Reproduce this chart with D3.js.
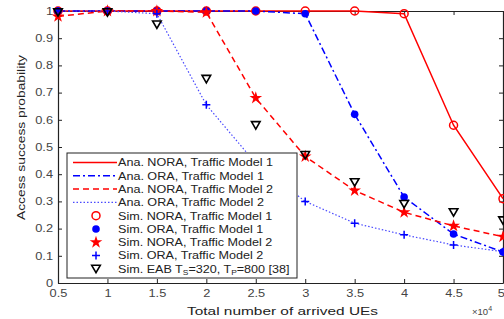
<!DOCTYPE html>
<html>
<head>
<meta charset="utf-8">
<script src="https://cdn.jsdelivr.net/npm/d3@7"></script>
<style>
  body { margin: 0; background: #fff; }
  svg { display: block; }
  .tick text { font-family: "Liberation Sans", Arial, sans-serif; font-size: 10px; fill: #444; }
</style>
</head>
<body>
<svg id="chart" width="504" height="319"></svg>
<script>
// x values are in units of 10^4 arrived UEs
const xVals = [0.5, 1, 1.5, 2, 2.5, 3, 3.5, 4, 4.5, 5];
const xTicks = [0.5, 1, 1.5, 2, 2.5, 3, 3.5, 4, 4.5, 5];
const yTicks = [0, 0.1, 0.2, 0.3, 0.4, 0.5, 0.6, 0.7, 0.8, 0.9, 1];

const anaNoraTM1 = [1, 1, 1, 1, 1, 1, 1, 0.99, 0.58, 0.31];
const anaOraTM1 = [1, 1, 1, 1, 1, 0.99, 0.62, 0.316, 0.18, 0.114];
const anaNoraTM2 = [0.98, 1, 1, 0.995, 0.68, 0.465, 0.34, 0.26, 0.21, 0.17];
const anaOraTM2 = [1, 1, 0.99, 0.655, 0.44, 0.30, 0.22, 0.177, 0.14, 0.115];

const simNoraTM1 = [1, 1, 1, 1, 1, 1, 1, 0.99, 0.58, 0.31];
const simOraTM1 = [1, 1, 1, 1, 1, 0.99, 0.62, 0.316, 0.18, 0.114];
const simNoraTM2 = [0.98, 1, 1, 0.995, 0.68, 0.465, 0.34, 0.26, 0.21, 0.17];
const simOraTM2 = [1, 1, 0.99, 0.655, 0.44, 0.30, 0.22, 0.177, 0.14, 0.115];
const simEAB = [0.995, 0.995, 0.95, 0.75, 0.58, 0.47, 0.37, 0.29, 0.26, 0.23];

const legendLabels = [
  "Ana. NORA, Traffic Model 1",
  "Ana. ORA, Traffic Model 1",
  "Ana. NORA, Traffic Model 2",
  "Ana. ORA, Traffic Model 2",
  "Sim. NORA, Traffic Model 1",
  "Sim. ORA, Traffic Model 1",
  "Sim. NORA, Traffic Model 2",
  "Sim. ORA, Traffic Model 2",
  "Sim. EAB"
];

const margin = { top: 11, right: 1, bottom: 36, left: 58 };
const width = 504 - margin.left - margin.right;
const height = 319 - margin.top - margin.bottom;
const font = '"Liberation Sans", Arial, sans-serif';
const stretch = 1.28; // the source picture is wider than tall, text looks stretched

const svg = d3.select("#chart");
const g = svg.append("g").attr("transform", `translate(${margin.left},${margin.top})`);

const x = d3.scaleLinear().domain([0.5, 5]).range([0, width]);
const y = d3.scaleLinear().domain([0, 1]).range([height, 0]);

// axes on all four sides, ticks pointing inward
const xAxis = g.append("g")
  .attr("transform", `translate(0,${height})`)
  .call(d3.axisBottom(x).tickValues(xTicks).tickSizeInner(-4).tickSizeOuter(0).tickPadding(7).tickFormat(d3.format("~g")));
g.append("g")
  .call(d3.axisTop(x).tickValues(xTicks).tickSizeInner(-4).tickSizeOuter(0).tickFormat(""));
const yAxis = g.append("g")
  .call(d3.axisLeft(y).tickValues(yTicks).tickSizeInner(-4).tickSizeOuter(0).tickPadding(5).tickFormat(d3.format("~g")));
g.append("g")
  .attr("transform", `translate(${width},0)`)
  .call(d3.axisRight(y).tickValues(yTicks).tickSizeInner(-4).tickSizeOuter(0).tickFormat(""));
g.selectAll(".domain").attr("stroke", "#222").attr("stroke-width", 1.2);
g.selectAll(".tick line").attr("stroke", "#222");

// widen tick labels like in the source
xAxis.selectAll(".tick text").attr("transform", `scale(${stretch},1)`);
yAxis.selectAll(".tick text").attr("transform", `scale(${stretch},1)`).attr("x", -5 / stretch);
xAxis.selectAll(".tick:last-of-type text").attr("text-anchor", "end").attr("x", 1);

const line = d3.line().x((d, i) => x(xVals[i])).y(d => y(d));

const lineSeries = [
  { data: anaNoraTM1, color: "#ff0000", dash: null, w: 1.5 },
  { data: anaOraTM1, color: "#0000ff", dash: "7,3,2,3", w: 1.5 },
  { data: anaNoraTM2, color: "#ff0000", dash: "6,4", w: 1.5 },
  { data: anaOraTM2, color: "#4a4aff", dash: "1.5,2", w: 1.2 }
];

lineSeries.forEach(s => {
  g.append("path")
    .datum(s.data)
    .attr("fill", "none")
    .attr("stroke", s.color)
    .attr("stroke-width", s.w)
    .attr("stroke-dasharray", s.dash)
    .attr("d", line);
});

// marker drawing helpers
function drawMarker(sel, type) {
  if (type === "circleOpen") {
    sel.append("circle").attr("r", 4).attr("fill", "none").attr("stroke", "#ff0000").attr("stroke-width", 1.5);
  } else if (type === "circleFill") {
    sel.append("circle").attr("r", 3.8).attr("fill", "#0000ff");
  } else if (type === "star") {
    sel.append("path").attr("d", d3.symbol(d3.symbolStar, 50)).attr("fill", "#ff0000");
  } else if (type === "plus") {
    sel.append("path").attr("d", "M-4,0H4M0,-4V4").attr("stroke", "#0000ff").attr("stroke-width", 1.5);
  } else if (type === "tri") {
    sel.append("path").attr("d", "M-4.3,-3.6L4.3,-3.6L0,3.8Z").attr("fill", "none").attr("stroke", "#000").attr("stroke-width", 1.6);
  }
}

const markerSeries = [
  { data: simNoraTM1, type: "circleOpen" },
  { data: simOraTM1, type: "circleFill" },
  { data: simNoraTM2, type: "star" },
  { data: simOraTM2, type: "plus" },
  { data: simEAB, type: "tri" }
];

markerSeries.forEach(s => {
  s.data.forEach((v, i) => {
    const m = g.append("g").attr("transform", `translate(${x(xVals[i])},${y(v)})`);
    drawMarker(m, s.type);
  });
});

// legend
const legend = svg.append("g").attr("transform", "translate(67,153)");
legend.append("rect")
  .attr("width", 230).attr("height", 125)
  .attr("fill", "#fff").attr("stroke", "#222").attr("stroke-width", 1);

const legendKinds = [
  { line: lineSeries[0] }, { line: lineSeries[1] }, { line: lineSeries[2] }, { line: lineSeries[3] },
  { marker: "circleOpen" }, { marker: "circleFill" }, { marker: "star" }, { marker: "plus" }, { marker: "tri" }
];

legendLabels.forEach((label, i) => {
  const row = legend.append("g").attr("transform", `translate(0,${9.5 + i * 13.3})`);
  const k = legendKinds[i];
  if (k.line) {
    row.append("line").attr("x1", 6).attr("x2", 50).attr("y1", 0).attr("y2", 0)
      .attr("stroke", k.line.color).attr("stroke-width", k.line.w).attr("stroke-dasharray", k.line.dash);
  } else {
    drawMarker(row.append("g").attr("transform", "translate(29,0)"), k.marker);
  }
  const t = row.append("g").attr("transform", "translate(51,3.8) scale(1.2,1)")
    .append("text")
    .style("font-family", font).style("font-size", "10.5px").attr("fill", "#222");
  if (i === 8) {
    t.append("tspan").text("Sim. EAB T");
    t.append("tspan").attr("font-size", "7px").attr("dy", 2).text("S");
    t.append("tspan").attr("dy", -2).text("=320, T");
    t.append("tspan").attr("font-size", "7px").attr("dy", 2).text("P");
    t.append("tspan").attr("dy", -2).text("=800 [38]");
  } else {
    t.text(label);
  }
});

// axis titles
svg.append("text")
  .attr("x", 187).attr("y", 315)
  .attr("textLength", 191).attr("lengthAdjust", "spacingAndGlyphs")
  .style("font-family", font).style("font-size", "11px").attr("fill", "#222")
  .text("Total number of arrived UEs");

svg.append("text")
  .attr("transform", "translate(25,220) rotate(-90)")
  .attr("textLength", 165).attr("lengthAdjust", "spacingAndGlyphs")
  .style("font-family", font).style("font-size", "11.5px").attr("fill", "#222")
  .text("Access success probability");

const mult = svg.append("text")
  .attr("x", 472).attr("y", 315)
  .style("font-family", font).style("font-size", "9.5px").attr("fill", "#444");
mult.append("tspan").text("\u00d710");
mult.append("tspan").attr("dy", -4).attr("font-size", "7px").text("4");
</script>
</body>
</html>
